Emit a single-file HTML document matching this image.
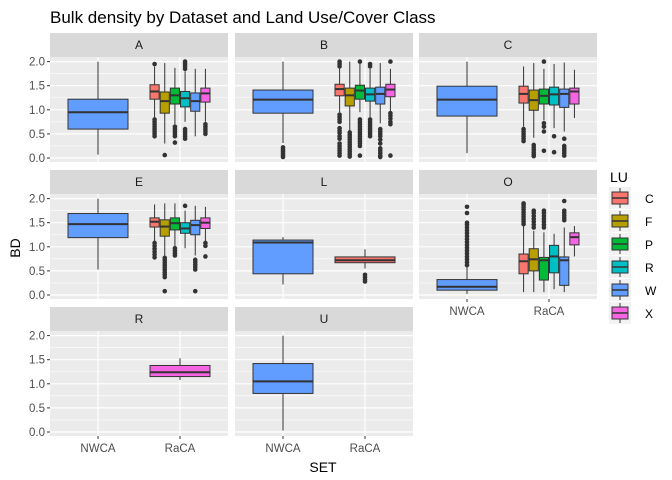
<!DOCTYPE html>
<html><head><meta charset="utf-8">
<style>
body{margin:0;background:#fff;}
svg{display:block;font-family:"Liberation Sans",sans-serif;}
</style></head>
<body>
<svg id="c" width="672" height="480" viewBox="0 0 672 480">
<text x="50" y="23" font-size="17" fill="#000">Bulk density by Dataset and Land Use/Cover Class</text>
<text x="323" y="472" font-size="14" fill="#000" text-anchor="middle">SET</text>
<text transform="translate(20,248) rotate(-90)" font-size="14" fill="#000" text-anchor="middle">BD</text>
</svg>
<script>
const yTicks = [0, 0.5, 1, 1.5, 2];
const yTickLabels = ["0.0", "0.5", "1.0", "1.5", "2.0"];
const sets = ["NWCA", "RaCA"];
const luCodes = ["C", "F", "P", "R", "W", "X"];
const luColors = ["#F8766D", "#B79F00", "#00BA38", "#00BFC4", "#619CFF", "#F564E3"];
const panelNames = ["A", "B", "C", "E", "L", "O", "R", "U"];
// each group: [set, lu, lo, q1, med, q3, hi, outliers]
const panelA = [
 ["NWCA","W",0.07,0.6,0.95,1.22,2.0,[]],
 ["RaCA","C",0.85,1.22,1.38,1.52,1.9,[1.95,0.45,0.5,0.55,0.6,0.65,0.7,0.75,0.8]],
 ["RaCA","F",0.3,0.93,1.18,1.37,1.97,[0.06]],
 ["RaCA","P",0.7,1.12,1.3,1.45,1.87,[0.32,0.45,0.5,0.55,0.6,0.65]],
 ["RaCA","R",0.75,1.06,1.24,1.38,1.8,[0.4,0.45,0.5,0.55,0.6,1.85,1.9,1.95,2.0]],
 ["RaCA","W",0.45,0.97,1.18,1.35,1.85,[]],
 ["RaCA","X",0.75,1.16,1.34,1.45,1.85,[0.5,0.55,0.6,0.65,0.7]]
];
const panelB = [
 ["NWCA","W",0.31,0.93,1.21,1.41,2.0,[0.02,0.06,0.1,0.14,0.18,0.22]],
 ["RaCA","C",0.95,1.29,1.43,1.53,1.87,[1.9,1.95,2.0,0.9,0.85,0.8,0.75,0.62,0.57,0.52,0.45,0.4,0.3,0.25,0.2,0.15,0.1,0.05]],
 ["RaCA","F",0.57,1.08,1.3,1.45,2.0,[0.53,0.48,0.43,0.38,0.33,0.28,0.23,0.18,0.13,0.08,0.03]],
 ["RaCA","P",0.95,1.22,1.4,1.51,1.97,[2.0,0.8,0.75,0.7,0.65,0.6,0.55,0.5,0.45,0.4,0.35,0.3,0.25,0.05]],
 ["RaCA","R",0.85,1.18,1.32,1.45,1.85,[1.9,1.95,0.8,0.75,0.7,0.65,0.6,0.55,0.5,0.45]],
 ["RaCA","W",0.72,1.12,1.33,1.47,1.97,[0.6,0.55,0.5,0.45,0.38,0.3,0.2,0.15,0.1,0.05,0.02]],
 ["RaCA","X",0.97,1.27,1.42,1.53,1.85,[2.0,0.93,0.88,0.82,0.75,0.7,0.05]]
];
const panelC = [
 ["NWCA","W",0.1,0.87,1.21,1.49,2.0,[]],
 ["RaCA","C",0.65,1.14,1.33,1.49,1.9,[0.6,0.55,0.5,0.45,0.4,0.35]],
 ["RaCA","F",0.42,0.99,1.2,1.41,1.97,[0.27,0.22,0.17,0.12,0.07,0.04]],
 ["RaCA","P",0.78,1.12,1.29,1.43,1.85,[2.0,0.72,0.65,0.55,0.15]],
 ["RaCA","R",0.62,1.1,1.32,1.47,1.95,[0.45,0.12]],
 ["RaCA","W",0.55,1.05,1.33,1.43,1.98,[0.4,0.25,0.2,0.15,0.1,0.05]],
 ["RaCA","X",0.83,1.12,1.38,1.45,1.83,[]]
];
const panelE = [
 ["NWCA","W",0.53,1.19,1.47,1.69,2.0,[]],
 ["RaCA","C",1.12,1.41,1.52,1.6,1.88,[1.08,1.02,0.96,0.9,0.84,0.78]],
 ["RaCA","F",0.8,1.22,1.42,1.56,1.9,[0.77,0.72,0.67,0.62,0.57,0.52,0.47,0.42,0.37,0.08]],
 ["RaCA","P",1.0,1.35,1.49,1.6,1.9,[0.97,0.92,0.87,0.82]],
 ["RaCA","R",0.97,1.28,1.38,1.5,1.75,[1.85]],
 ["RaCA","W",0.82,1.25,1.45,1.55,1.85,[0.73,0.68,0.63,0.58,0.53,0.08]],
 ["RaCA","X",1.12,1.38,1.5,1.6,1.83,[1.08,1.02,0.8]]
];
const panelL = [
 ["NWCA","W",0.22,0.44,1.09,1.14,1.2,[]],
 ["RaCA","C",0.55,0.67,0.72,0.79,0.95,[0.42,0.37,0.32,0.28]]
];
const panelO = [
 ["NWCA","W",0.02,0.1,0.17,0.32,0.6,[0.62,0.68,0.74,0.8,0.86,0.92,0.98,1.04,1.1,1.16,1.22,1.28,1.34,1.4,1.46,1.5,1.7,1.83]],
 ["RaCA","C",0.06,0.44,0.7,0.85,1.43,[1.47,1.52,1.57,1.62,1.67,1.72,1.77,1.82,1.87,1.9]],
 ["RaCA","F",0.06,0.5,0.74,0.96,1.33,[1.4,1.46,1.52,1.58,1.64,1.7,1.75]],
 ["RaCA","P",0.06,0.31,0.72,0.78,1.3,[1.4,1.46,1.52,1.58,1.64,1.7,1.75]],
 ["RaCA","R",0.12,0.46,0.8,1.03,1.27,[]],
 ["RaCA","W",0.06,0.2,0.72,0.79,1.4,[1.55,1.6,1.65,1.7,1.75,1.95]],
 ["RaCA","X",0.8,1.04,1.2,1.29,1.43,[]]
];
const panelR = [
 ["RaCA","X",1.08,1.15,1.24,1.38,1.53,[]]
];
const panelU = [
 ["NWCA","W",0.03,0.8,1.05,1.42,2.0,[]]
];
const panelData = [panelA, panelB, panelC, panelE, panelL, panelO, panelR, panelU];

const NS = "http://www.w3.org/2000/svg";
const svg = document.getElementById("c");
function mk(tag, attrs, parent){
  const e = document.createElementNS(NS, tag);
  for (const k in attrs) e.setAttribute(k, attrs[k]);
  (parent || svg).appendChild(e);
  return e;
}
const colX = [50, 235, 419];
const rowY = [57, 194, 331];
const PW = 178, PH = 105, SH = 24;
const DODGE = 61;

panelNames.forEach((name, pi) => {
  const col = pi % 3, row = Math.floor(pi / 3);
  const x0 = colX[col], y0 = rowY[row];
  const yS = v => y0 + 101 - v * 48.2;
  const xS = s => x0 + (s === "NWCA" ? 48 : 130);
  const g = mk("g", {});
  
  
  const strip = mk("rect", {x: x0, y: y0 - SH, width: PW, height: SH, fill: "#D9D9D9"}, g);
  
  
  const st = mk("text", {x: x0 + PW / 2, y: y0 - 8, "font-size": 12, fill: "#1A1A1A", "text-anchor": "middle"}, g);
  st.textContent = name;
  
  
  const bg = mk("rect", {x: x0, y: y0, width: PW, height: PH, fill: "#EBEBEB"}, g);
  
  
  [0.25, 0.75, 1.25, 1.75].forEach(v => {
    const l = mk("line", {x1: x0, x2: x0 + PW, y1: yS(v), y2: yS(v), stroke: "#fff", "stroke-width": 0.6}, g);
    
    
  });
  yTicks.forEach(v => {
    const l = mk("line", {x1: x0, x2: x0 + PW, y1: yS(v), y2: yS(v), stroke: "#fff", "stroke-width": 1.2}, g);
    
    
  });
  sets.forEach(s => {
    const l = mk("line", {x1: xS(s), x2: xS(s), y1: y0, y2: y0 + PH, stroke: "#fff", "stroke-width": 1.2}, g);
    
    
  });
  if (col === 0) {
    yTicks.forEach((v, i) => {
      const t = mk("line", {x1: x0 - 3, x2: x0, y1: yS(v), y2: yS(v), stroke: "#333", "stroke-width": 1}, g);
      
      
      const tl = mk("text", {x: x0 - 5, y: yS(v) + 4, "font-size": 11.5, fill: "#4D4D4D", "text-anchor": "end"}, g);
      tl.textContent = yTickLabels[i];
      
      
    });
  }
  const bottom = (row === 2) || (row === 1 && col === 2);
  if (bottom) {
    sets.forEach(s => {
      const t = mk("line", {x1: xS(s), x2: xS(s), y1: y0 + PH, y2: y0 + PH + 3, stroke: "#333", "stroke-width": 1}, g);
      
      
      const tl = mk("text", {x: xS(s), y: y0 + PH + 16, "font-size": 11.5, fill: "#4D4D4D", "text-anchor": "middle"}, g);
      tl.textContent = s;
      
      
    });
  }
  const groups = panelData[pi];
  sets.forEach(s => {
    const gs = groups.filter(d => d[0] === s);
    const n = gs.length;
    gs.forEach((d, i) => {
      const w = DODGE / n;
      const cx = xS(s) + (i - (n - 1) / 2) * w;
      const color = luColors[luCodes.indexOf(d[1])];
      const bx = mk("g", {}, g);
      
      
      mk("line", {x1: cx, x2: cx, y1: yS(d[2]), y2: yS(d[3]), stroke: "#333", "stroke-width": 1}, bx);
      mk("line", {x1: cx, x2: cx, y1: yS(d[5]), y2: yS(d[6]), stroke: "#333", "stroke-width": 1}, bx);
      mk("rect", {x: cx - w / 2 + 0.5, y: yS(d[5]), width: w - 1, height: yS(d[3]) - yS(d[5]), fill: color, stroke: "#333", "stroke-width": 1}, bx);
      mk("line", {x1: cx - w / 2 + 0.5, x2: cx + w / 2 - 0.5, y1: yS(d[4]), y2: yS(d[4]), stroke: "#333", "stroke-width": 2}, bx);
      d[7].forEach(o => {
        const c = mk("circle", {cx: cx, cy: yS(o), r: 2.3, fill: "#333"}, bx);
        
        
      });
    });
  });
});

// legend
const lg = mk("g", {});


const lt = mk("text", {x: 610, y: 182, "font-size": 14, fill: "#000"}, lg);
lt.textContent = "LU";


luCodes.forEach((c, i) => {
  const cy = 198 + i * 23;
  const e = mk("g", {}, lg);
  
  
  mk("rect", {x: 609, y: cy - 11, width: 22, height: 22, fill: "#F2F2F2"}, e);
  mk("line", {x1: 620, x2: 620, y1: cy - 10, y2: cy + 10, stroke: "#333", "stroke-width": 1}, e);
  mk("rect", {x: 612, y: cy - 6, width: 16, height: 12, fill: luColors[i], stroke: "#333", "stroke-width": 1}, e);
  mk("line", {x1: 612, x2: 628, y1: cy, y2: cy, stroke: "#333", "stroke-width": 1.5}, e);
  const t = mk("text", {x: 645, y: cy + 5, "font-size": 12, fill: "#000"}, e);
  t.textContent = c;
});
</script>
</body></html>
